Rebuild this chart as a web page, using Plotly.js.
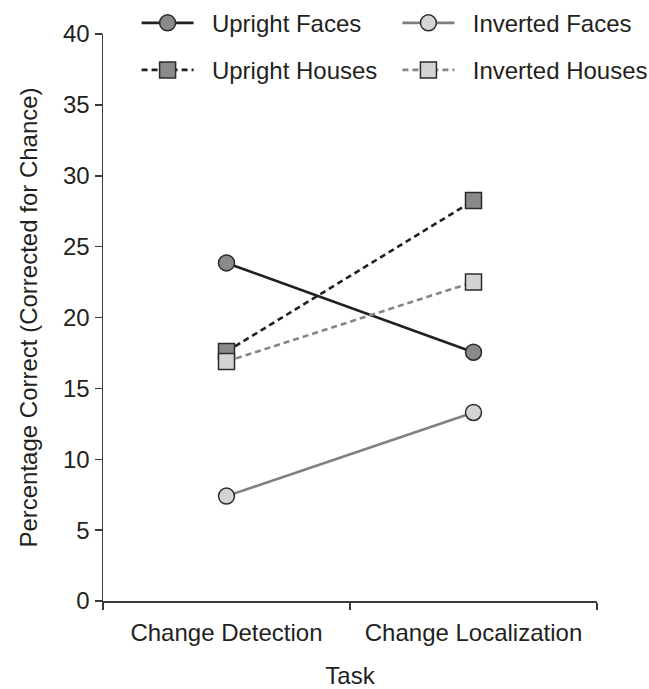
<!DOCTYPE html>
<html>
<head>
<meta charset="utf-8">
<script src="https://cdn.plot.ly/plotly-3.0.1.min.js"></script>
<style>html,body{margin:0;padding:0;background:#fff;}#chart{width:649px;height:689px;}</style>
</head>
<body>
<div id="chart"></div>
<script>
var tasks = ["Change Detection", "Change Localization"];
var uprightFaces = [23.85, 17.55];
var invertedFaces = [7.4, 13.3];
var uprightHouses = [17.6, 28.25];
var invertedHouses = [16.9, 22.5];
var yTicks = [0, 5, 10, 15, 20, 25, 30, 35, 40];
var seriesNames = ["Upright Faces", "Inverted Faces", "Upright Houses", "Inverted Houses"];

var FONT = "Liberation Sans, Arial, Helvetica, sans-serif";
var TXT = "#231f20";

function tr(name, y, lineColor, dash, symbol, fill, legendId) {
  return {
    type: "scatter", mode: "lines+markers", name: "\u00a0\u00a0" + name,
    x: tasks, y: y,
    line: {color: lineColor, width: 2.6, dash: dash},
    marker: {symbol: symbol, size: 16, color: fill, line: {color: "#2b2b2b", width: 1.5}},
    legend: legendId, cliponaxis: false
  };
}

var data = [
  tr(seriesNames[0], uprightFaces, "#231f20", "solid", "circle", "#8a8a8c", "legend"),
  tr(seriesNames[1], invertedFaces, "#808080", "solid", "circle", "#d2d3d5", "legend2"),
  tr(seriesNames[2], uprightHouses, "#231f20", "6px,4px", "square", "#8a8a8c", "legend3"),
  tr(seriesNames[3], invertedHouses, "#858585", "6px,4px", "square", "#d2d3d5", "legend4")
];

function leg(x, y) {
  return {x: x, y: y, xanchor: "left", yanchor: "middle", orientation: "h",
    bgcolor: "rgba(0,0,0,0)", font: {family: FONT, size: 24, color: TXT},
    itemwidth: 52, borderwidth: 0, tracegroupgap: 0};
}

var layout = {
  width: 649, height: 689,
  margin: {l: 103, r: 52, t: 34, b: 88, autoexpand: false},
  paper_bgcolor: "#fff", plot_bgcolor: "#fff",
  font: {family: FONT, size: 24, color: TXT},
  showlegend: true,
  legend: leg(0.068, 1.019),
  legend2: leg(0.596, 1.019),
  legend3: leg(0.068, 0.936),
  legend4: leg(0.596, 0.936),
  xaxis: {
    type: "category", range: [-0.5, 1.5], tickson: "boundaries",
    showline: true, linecolor: "#3a3a3a", linewidth: 1.5,
    ticks: "outside", ticklen: 7, tickwidth: 1.5, tickcolor: "#3a3a3a",
    showgrid: false, zeroline: false, ticklabelstandoff: 10,
    tickfont: {family: FONT, size: 24, color: TXT},
    title: {text: "Task", font: {family: FONT, size: 24, color: TXT}, standoff: 23}
  },
  yaxis: {
    range: [0, 40], tickvals: yTicks, ticktext: yTicks.map(String),
    showline: true, linecolor: "#3a3a3a", linewidth: 1.5,
    ticks: "outside", ticklen: 7, tickwidth: 1.5, tickcolor: "#3a3a3a",
    showgrid: false, zeroline: false,
    tickfont: {family: FONT, size: 24, color: TXT},
    title: {text: "Percentage Correct (Corrected for Chance)", font: {family: FONT, size: 24, color: TXT}, standoff: 18}
  }
};

Plotly.newPlot("chart", data, layout, {displayModeBar: false, staticPlot: true});
</script>
</body>
</html>
